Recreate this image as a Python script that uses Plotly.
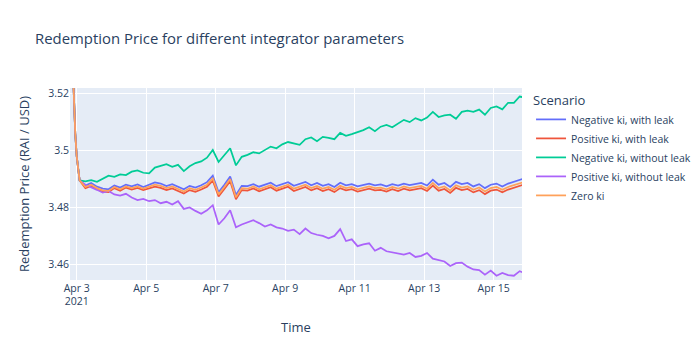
import pandas as pd
import plotly.graph_objects as go

# timestamps: hourly start-up phase, then 4-hourly samples, then final point
start_times = pd.date_range("2021-04-02 19:00", "2021-04-03 02:00", freq="1h")
main_times = pd.date_range("2021-04-03 06:00", "2021-04-15 18:00", freq="4h")
end_times = pd.to_datetime(["2021-04-15 20:00"])
times = list(start_times) + list(main_times) + list(end_times)

startup = [3.562, 3.546, 3.531, 3.518, 3.506, 3.498, 3.4925, 3.4895]

neg_with_leak = [
    3.4877, 3.4886, 3.4873, 3.4866, 3.4864, 3.4877, 3.4870, 3.4880, 3.4874, 3.4881,
    3.4872, 3.4879, 3.4888, 3.4884, 3.4875, 3.4882, 3.4874, 3.4864, 3.4876, 3.4870,
    3.4878, 3.4889, 3.4912, 3.4853, 3.4880, 3.4909, 3.4844, 3.4876, 3.4875, 3.4882,
    3.4873, 3.4879, 3.4887, 3.4875, 3.4881, 3.4889, 3.4876, 3.4884, 3.4890, 3.4878,
    3.4886, 3.4876, 3.4882, 3.4872, 3.4887, 3.4878, 3.4882, 3.4874, 3.4880, 3.4884,
    3.4878, 3.4881, 3.4874, 3.4882, 3.4877, 3.4884, 3.4879, 3.4883, 3.4886, 3.4877,
    3.4898, 3.4880, 3.4886, 3.4872, 3.4890, 3.4882, 3.4886, 3.4874, 3.4882, 3.4868,
    3.4880, 3.4884, 3.4874, 3.4884, 3.4890, 3.4898, 3.4900,
]
pos_with_leak = [
    3.4868, 3.4876, 3.4864, 3.4856, 3.4854, 3.4868, 3.4859, 3.4870, 3.4863, 3.4869,
    3.4861, 3.4867, 3.4873, 3.4869, 3.4861, 3.4867, 3.4859, 3.4849, 3.4861, 3.4855,
    3.4863, 3.4873, 3.4894, 3.4839, 3.4865, 3.4892, 3.4829, 3.4861, 3.4859, 3.4867,
    3.4857, 3.4863, 3.4871, 3.4859, 3.4865, 3.4873, 3.4858, 3.4866, 3.4872, 3.4860,
    3.4868, 3.4858, 3.4864, 3.4854, 3.4868, 3.4860, 3.4864, 3.4856, 3.4862, 3.4866,
    3.4860, 3.4862, 3.4856, 3.4864, 3.4858, 3.4866, 3.4860, 3.4864, 3.4868, 3.4858,
    3.4877, 3.4859, 3.4865, 3.4851, 3.4869, 3.4861, 3.4865, 3.4853, 3.4861, 3.4847,
    3.4859, 3.4863, 3.4853, 3.4863, 3.4869, 3.4877, 3.4879,
]
neg_without_leak = [
    3.4892, 3.4896, 3.4890, 3.4902, 3.4912, 3.4908, 3.4916, 3.4914, 3.4926, 3.4930,
    3.4922, 3.4920, 3.4940, 3.4946, 3.4952, 3.4943, 3.4950, 3.4928, 3.4945, 3.4956,
    3.4962, 3.4975, 3.5002, 3.4960, 3.4985, 3.5008, 3.4948, 3.4978, 3.4985, 3.4994,
    3.4990, 3.5002, 3.5014, 3.5008, 3.5022, 3.5030, 3.5024, 3.5020, 3.5040, 3.5046,
    3.5033, 3.5048, 3.5045, 3.5040, 3.5062, 3.5052, 3.5058, 3.5064, 3.5072, 3.5082,
    3.5068, 3.5084, 3.5090, 3.5082, 3.5096, 3.5108, 3.5100, 3.5114, 3.5106, 3.5116,
    3.5136, 3.5118, 3.5124, 3.5126, 3.5112, 3.5136, 3.5140, 3.5136, 3.5144, 3.5126,
    3.5150, 3.5155, 3.5145, 3.5168, 3.5168, 3.5190, 3.5188,
]
pos_without_leak = [
    3.4880, 3.4872, 3.4862, 3.4852, 3.4858, 3.4846, 3.4842, 3.4848, 3.4835, 3.4826,
    3.4830, 3.4822, 3.4826, 3.4815, 3.4820, 3.4810, 3.4822, 3.4795, 3.4800, 3.4788,
    3.4778, 3.4790, 3.4808, 3.4740, 3.4762, 3.4790, 3.4730, 3.4740, 3.4748, 3.4755,
    3.4745, 3.4733, 3.4740, 3.4730, 3.4726, 3.4718, 3.4722, 3.4706, 3.4726, 3.4710,
    3.4704, 3.4700, 3.4692, 3.4700, 3.4724, 3.4682, 3.4688, 3.4664, 3.4670, 3.4674,
    3.4648, 3.4658, 3.4646, 3.4642, 3.4636, 3.4634, 3.4640, 3.4626, 3.4630, 3.4640,
    3.4620, 3.4616, 3.4610, 3.4594, 3.4604, 3.4606, 3.4592, 3.4582, 3.4580, 3.4564,
    3.4578, 3.4560, 3.4570, 3.4562, 3.4560, 3.4576, 3.4572,
]
zero_ki = [
    3.4872, 3.4880, 3.4868, 3.4860, 3.4858, 3.4872, 3.4864, 3.4874, 3.4868, 3.4874,
    3.4866, 3.4872, 3.4880, 3.4876, 3.4868, 3.4874, 3.4866, 3.4856, 3.4868, 3.4862,
    3.4870, 3.4880, 3.4902, 3.4846, 3.4872, 3.4900, 3.4836, 3.4868, 3.4866, 3.4874,
    3.4864, 3.4870, 3.4878, 3.4866, 3.4872, 3.4880, 3.4866, 3.4874, 3.4880, 3.4868,
    3.4876, 3.4866, 3.4872, 3.4862, 3.4876, 3.4868, 3.4872, 3.4864, 3.4870, 3.4874,
    3.4868, 3.4870, 3.4864, 3.4872, 3.4866, 3.4874, 3.4868, 3.4872, 3.4876, 3.4866,
    3.4886, 3.4868, 3.4874, 3.4860, 3.4878, 3.4870, 3.4874, 3.4862, 3.4870, 3.4856,
    3.4868, 3.4872, 3.4862, 3.4872, 3.4878, 3.4886, 3.4888,
]

scenarios = [
    ("Negative ki, with leak", neg_with_leak, "#636EFA"),
    ("Positive ki, with leak", pos_with_leak, "#EF553B"),
    ("Negative ki, without leak", neg_without_leak, "#00CC96"),
    ("Positive ki, without leak", pos_without_leak, "#AB63FA"),
    ("Zero ki", zero_ki, "#FFA15A"),
]

fig = go.Figure()
for name, vals, color in scenarios:
    fig.add_trace(go.Scatter(
        x=times, y=startup + vals, mode="lines", name=name,
        line=dict(color=color, width=1.75),
    ))

fig.update_layout(
    template="plotly",
    width=700, height=350,
    font=dict(size=10.5),
    title=dict(text="Redemption Price for different integrator parameters",
               font=dict(size=14.9)),
    legend=dict(title=dict(text="Scenario"), x=1.02, y=1,
                tracegroupgap=0),
    margin=dict(l=70, r=178, t=87.5, b=70, autoexpand=False),
    xaxis=dict(title=dict(text="Time"),
               range=["2021-04-02 19:22", "2021-04-15 19:36"],
               tick0="2021-04-03", dtick=2 * 86400000,
               tickformat="%b %-d\n%Y"),
    yaxis=dict(title=dict(text="Redemption Price (RAI / USD)"),
               range=[3.4545, 3.522], dtick=0.02),
)

fig.write_html("out.html")
